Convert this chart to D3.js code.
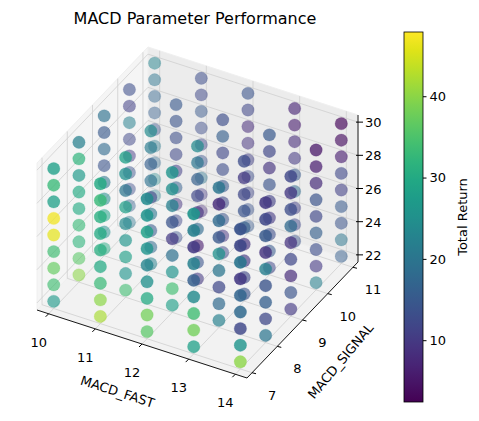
<!DOCTYPE html>
<html>
<head>
<meta charset="utf-8">
<script src="https://cdn.jsdelivr.net/npm/d3@7"></script>
<style>
  body { margin: 0; background: #fff; }
  text { font-family: "DejaVu Sans", sans-serif; fill: #000; }
</style>
</head>
<body>
<svg id="chart" width="479" height="421"></svg>
<script>
// parameter grid
const fastValues = [10, 11, 12, 13, 14];
const signalValues = [7, 8, 9, 10, 11];
const slowValues = [22, 23, 24, 25, 26, 27, 28, 29, 30];
const zTicks = [22, 24, 26, 28, 30];
const cbarTicks = [10, 20, 30, 40];

// total return, one array per fast value, rows = signal, cols = slow 22..30
const returnsFast10 = [
  [27, 34, 37, 34, 46, 47, 28, 33, 28],
  [40, 36, 32, 33, 30, 30, 27, 32, 22],
  [30, 25, 28, 24, 20, 14, 18, 15, 19],
  [20, 16, 13, 14, 10, 12, 22, 11, 13],
  [22, 24, 18, 21, 14, 16, 17, 20, 23]
];
const returnsFast11 = [
  [42, 40, 33, 30, 31, 30, 31, 33, 30],
  [34, 26, 28, 26, 24, 28, 20, 25, 28],
  [22, 18, 15, 20, 12, 19, 16, 21, 24],
  [14, 12, 9, 16, 11, 12, 13, 14, 15],
  [8, 10, 20, 14, 12, 13, 15, 12, 13]
];
const returnsFast12 = [
  [36, 38, 30, 25, 23, 26, 28, 26, 24],
  [28, 34, 26, 19, 10, 14, 22, 25, 26],
  [10, 14, 6, 18, 9, 12, 16, 20, 24],
  [12, 9, 14, 12, 15, 13, 12, 16, 13],
  [15, 14, 12, 13, 11, 9, 8, 12, 14]
];
const returnsFast13 = [
  [28, 38, 34, 24, 16, 22, 10, 22, 26],
  [22, 18, 12, 20, 25, 15, 18, 8, 20],
  [14, 12, 10, 9, 16, 14, 12, 10, 13],
  [12, 15, 13, 10, 11, 14, 9, 12, 15],
  [14, 12, 11, 18, 15, 10, 8, 6, 7]
];
const returnsFast14 = [
  [40, 26, 12, 18, 17, 10, 20, 12, 14],
  [20, 12, 16, 14, 22, 9, 15, 12, 10],
  [10, 14, 8, 12, 9, 18, 13, 10, 12],
  [22, 10, 13, 16, 12, 14, 8, 6, 5],
  [16, 20, 14, 15, 11, 12, 6, 4, 3]
];
const returnsByFast = [returnsFast10, returnsFast11, returnsFast12, returnsFast13, returnsFast14];

const svg = d3.select("#chart");

// axis limits and a simple affine projection of the 3d box
const xLim = [9.75, 14.25], yLim = [6.8, 11.2], zLim = [21.57, 30.43];
const origin = [37, 310];
const ex = [210, 68], ey = [111, -116], ez = [0, -147];
const sx = d3.scaleLinear().domain(xLim).range([0, 1]);
const sy = d3.scaleLinear().domain(yLim).range([0, 1]);
const sz = d3.scaleLinear().domain(zLim).range([0, 1]);

function proj(x, y, z) {
  const a = sx(x), b = sy(y), c = sz(z);
  return [origin[0] + a * ex[0] + b * ey[0] + c * ez[0],
          origin[1] + a * ex[1] + b * ey[1] + c * ez[1]];
}
function depth(x, y, z) {
  // larger = closer to viewer (azim -60, elev 30)
  return 0.5 * sx(x) - 0.866 * sy(y) + 0.5 * sz(z);
}
const line = d3.line();

// panes
const panes = [
  [[xLim[0], yLim[0], zLim[0]], [xLim[1], yLim[0], zLim[0]], [xLim[1], yLim[1], zLim[0]], [xLim[0], yLim[1], zLim[0]]],
  [[xLim[0], yLim[0], zLim[0]], [xLim[0], yLim[1], zLim[0]], [xLim[0], yLim[1], zLim[1]], [xLim[0], yLim[0], zLim[1]]],
  [[xLim[0], yLim[1], zLim[0]], [xLim[1], yLim[1], zLim[0]], [xLim[1], yLim[1], zLim[1]], [xLim[0], yLim[1], zLim[1]]]
];
const paneFill = ["#f2f2f2", "#f5f5f5", "#ececec"];
svg.append("g").selectAll("path").data(panes).enter().append("path")
  .attr("d", d => line(d.map(p => proj(...p))) + "Z")
  .attr("fill", (d, i) => paneFill[i])
  .attr("stroke", "#f0f0f0");

// grid lines
const grid = [];
fastValues.forEach(f => {
  grid.push([[f, yLim[0], zLim[0]], [f, yLim[1], zLim[0]], [f, yLim[1], zLim[1]]]);
});
signalValues.forEach(s => {
  grid.push([[xLim[1], s, zLim[0]], [xLim[0], s, zLim[0]], [xLim[0], s, zLim[1]]]);
});
zTicks.forEach(z => {
  grid.push([[xLim[0], yLim[0], z], [xLim[0], yLim[1], z], [xLim[1], yLim[1], z]]);
});
svg.append("g").selectAll("path").data(grid).enter().append("path")
  .attr("d", d => line(d.map(p => proj(...p))))
  .attr("fill", "none")
  .attr("stroke", "#cfcfcf")
  .attr("stroke-width", 0.8);

// axis lines
const axisG = svg.append("g");
const axisLines = [
  [[xLim[0], yLim[0], zLim[0]], [xLim[1], yLim[0], zLim[0]]],
  [[xLim[1], yLim[0], zLim[0]], [xLim[1], yLim[1], zLim[0]]],
  [[xLim[1], yLim[1], zLim[0]], [xLim[1], yLim[1], zLim[1]]]
];
axisG.selectAll("path").data(axisLines).enter().append("path")
  .attr("d", d => line(d.map(p => proj(...p))))
  .attr("stroke", "#000").attr("stroke-width", 0.9).attr("fill", "none");

// ticks
fastValues.forEach(f => {
  const p = proj(f, yLim[0], zLim[0]);
  axisG.append("line").attr("x1", p[0]).attr("y1", p[1]).attr("x2", p[0] - 3).attr("y2", p[1] + 3).attr("stroke", "#000");
  axisG.append("text").attr("x", p[0] - 10).attr("y", p[1] + 33).attr("text-anchor", "middle")
    .attr("font-size", 13).text(f);
});
signalValues.forEach(s => {
  const p = proj(xLim[1], s, zLim[0]);
  axisG.append("line").attr("x1", p[0]).attr("y1", p[1]).attr("x2", p[0] + 4).attr("y2", p[1] + 1).attr("stroke", "#000");
  axisG.append("text").attr("x", p[0] + 20).attr("y", p[1] + 27).attr("text-anchor", "middle")
    .attr("font-size", 13).text(s);
});
zTicks.forEach(z => {
  const p = proj(xLim[1], yLim[1], z);
  axisG.append("line").attr("x1", p[0] - 2).attr("y1", p[1]).attr("x2", p[0] + 5).attr("y2", p[1]).attr("stroke", "#000");
  axisG.append("text").attr("x", p[0] + 7).attr("y", p[1] + 5)
    .attr("font-size", 13).text(z);
});
axisG.append("text").attr("transform", "translate(116,396) rotate(18)")
  .attr("text-anchor", "middle").attr("font-size", 13).text("MACD_FAST");
axisG.append("text").attr("transform", "translate(344,364) rotate(-50)")
  .attr("text-anchor", "middle").attr("font-size", 13).text("MACD_SIGNAL");

// points
const points = [];
returnsByFast.forEach((rows, fi) => {
  rows.forEach((vals, si) => {
    vals.forEach((v, zi) => {
      points.push({ x: fastValues[fi], y: signalValues[si], z: slowValues[zi], v: v });
    });
  });
});
points.forEach(d => { d.d = depth(d.x, d.y, d.z); });
points.sort((a, b) => a.d - b.d);

const cMin = 2.4, cMax = 47.9;
const color = d3.scaleSequential(d3.interpolateViridis).domain([cMin, cMax]);
const dExt = d3.extent(points, d => d.d);
const alpha = d3.scaleLinear().domain(dExt).range([0.35, 0.95]);

svg.append("g").selectAll("circle").data(points).enter().append("circle")
  .attr("cx", d => proj(d.x, d.y, d.z)[0])
  .attr("cy", d => proj(d.x, d.y, d.z)[1])
  .attr("r", 6.2)
  .attr("fill", d => color(d.v))
  .attr("fill-opacity", d => alpha(d.d))
  .attr("stroke", d => color(d.v))
  .attr("stroke-opacity", d => alpha(d.d) * 0.6)
  .attr("stroke-width", 0.5);

// title
svg.append("text").attr("x", 195).attr("y", 24).attr("text-anchor", "middle")
  .attr("font-size", 16).text("MACD Parameter Performance");

// colorbar
const cb = { x: 404, y: 32, w: 19, h: 370 };
const defs = svg.append("defs");
const grad = defs.append("linearGradient").attr("id", "vir")
  .attr("x1", 0).attr("y1", 1).attr("x2", 0).attr("y2", 0);
d3.range(0, 1.0001, 0.05).forEach(t => {
  grad.append("stop").attr("offset", t).attr("stop-color", d3.interpolateViridis(t));
});
svg.append("rect").attr("x", cb.x).attr("y", cb.y).attr("width", cb.w).attr("height", cb.h)
  .attr("fill", "url(#vir)").attr("stroke", "#000").attr("stroke-width", 0.8);
const cScale = d3.scaleLinear().domain([cMin, cMax]).range([cb.y + cb.h, cb.y]);
const cAxis = svg.append("g").attr("transform", `translate(${cb.x + cb.w},0)`)
  .call(d3.axisRight(cScale).tickValues(cbarTicks).tickSize(3.5).tickPadding(3));
cAxis.select(".domain").remove();
cAxis.selectAll("text").attr("font-size", 13).style("font-family", "DejaVu Sans");
svg.append("text").attr("transform", "translate(467,217) rotate(-90)")
  .attr("text-anchor", "middle").attr("font-size", 13).text("Total Return");
</script>
</body>
</html>
